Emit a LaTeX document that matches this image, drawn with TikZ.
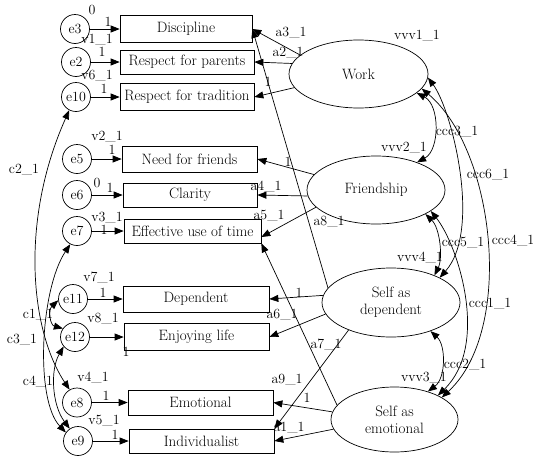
\documentclass[tikz,border=0pt]{standalone}
\usetikzlibrary{arrows.meta,shapes.geometric}
\begin{document}
\begin{tikzpicture}[x=1pt,y=-1pt,line width=0.7pt,
  obs/.style={draw, rectangle, inner sep=0pt, font=\fontsize{15}{17}\selectfont},
  err/.style={draw, circle, minimum size=29pt, inner sep=0pt, font=\fontsize{14}{16}\selectfont},
  lat/.style={draw, ellipse, inner sep=0pt, align=center, font=\fontsize{15}{17}\selectfont},
  lab/.style={inner sep=0pt, font=\fontsize{14}{16}\selectfont},
  arr/.style={-{Triangle[length=9pt,width=7pt]}},
  cov/.style={{Triangle[length=9pt,width=7pt]}-{Triangle[length=9pt,width=7pt]}}]
\useasboundingbox (0,0) rectangle (533,461);

% observed variables
\node[obs, minimum width=132pt, minimum height=27pt] (Disc) at (186,29) {Discipline};
\node[obs, minimum width=134pt, minimum height=24pt] (RP) at (187,62) {Respect for parents};
\node[obs, minimum width=134pt, minimum height=27pt] (RT) at (187,97) {Respect for tradition};
\node[obs, minimum width=135pt, minimum height=26pt] (NF) at (189.5,159) {Need for friends};
\node[obs, minimum width=134pt, minimum height=24pt] (Clar) at (190,195) {Clarity};
\node[obs, minimum width=137pt, minimum height=24pt] (EU) at (192.5,231) {Effective use of time};
\node[obs, minimum width=146pt, minimum height=26pt] (Dep) at (196,299) {Dependent};
\node[obs, minimum width=145pt, minimum height=27pt] (EL) at (196.5,337) {Enjoying life};
\node[obs, minimum width=145pt, minimum height=25pt] (Emo) at (200.5,402.5) {Emotional};
\node[obs, minimum width=145pt, minimum height=24pt] (Ind) at (201.5,441) {Individualist};

% error terms
\node[err] (e3) at (75,29) {e3};
\node[err] (e2) at (76,62) {e2};
\node[err] (e10) at (76,97) {e10};
\node[err] (e5) at (77,159) {e5};
\node[err] (e6) at (77,195) {e6};
\node[err] (e7) at (77,231) {e7};
\node[err] (e11) at (73,299) {e11};
\node[err] (e12) at (75,337) {e12};
\node[err] (e8) at (77,402.5) {e8};
\node[err] (e9) at (78,441) {e9};

% latent variables
\node[lat, minimum width=139pt, minimum height=68pt] (Work) at (358.5,74) {Work};
\node[lat, minimum width=138pt, minimum height=68pt] (Fr) at (376,190) {Friendship};
\node[lat, minimum width=138pt, minimum height=69pt] (SD) at (391,302.5) {Self as\\dependent};
\node[lat, minimum width=127pt, minimum height=65pt] (SE) at (394.5,419.5) {Self as\\emotional};

% error -> indicator
\draw[arr] (e3) -- (Disc);
\draw[arr] (e2) -- (RP);
\draw[arr] (e10) -- (RT);
\draw[arr] (e5) -- (NF);
\draw[arr] (e6) -- (Clar);
\draw[arr] (e7) -- (EU);
\draw[arr] (e11) -- (Dep);
\draw[arr] (e12) -- (EL);
\draw[arr] (e8) -- (Emo);
\draw[arr] (e9) -- (Ind);

% latent -> indicator
\draw[arr] (Work.162) -- (Disc.east);
\draw[arr] (SD.167) -- (Disc.east);
\draw[arr] (Work.171) -- (RP.east);
\draw[arr] (Work.192) -- (RT.east);
\draw[arr] (Fr.166) -- (NF.east);
\draw[arr] (Fr.185) -- (Clar.east);
\draw[arr] (Fr.196) -- (EU.-5);
\draw[arr] (SE.166) -- (EU.south east);
\draw[arr] (SD.174) -- (Dep.east);
\draw[arr] (SD.190) -- (EL.east);
\draw[arr] (SD.213) -- (Ind.north east);
\draw[arr] (SE.173) -- (Emo.east);
\draw[arr] (SE.189) -- (Ind.east);

% covariances between latents
\draw[cov] (Work.-18) .. controls (440,105) and (440,150) .. (Fr.34);
\draw[cov] (Work.-3) .. controls (452,110) and (482,230) .. (SD.27);
\draw[cov] (Work.-13) .. controls (495,150) and (515,330) .. (SE.25);
\draw[cov] (Fr.-26) .. controls (440,228) and (443,258) .. (SD.32);
\draw[cov] (Fr.-21) .. controls (458,245) and (490,345) .. (SE.29);
\draw[cov] (SD.-36) .. controls (446,345) and (446,378) .. (SE.40);

% covariances between errors
\draw[cov] (e10.243) .. controls (20,220) and (30,330) .. (e8.120);
\draw[cov] (e7.243) .. controls (40,290) and (35,400) .. (e9.145);
\draw[cov] (e11.185) .. controls (48,310) and (50,325) .. (e12.145);
\draw[cov] (e12.220) .. controls (50,370) and (52,405) .. (e9.124);

% labels: error side
\node[lab] (l0a) at (92,10) {0};
\node[lab] (l1a) at (108,22) {1};
\node[lab] (lv1) at (97,40) {v1\_1};
\node[lab] (l1b) at (102,52) {1};
\node[lab] (lv6) at (97,76) {v6\_1};
\node[lab] (l1c) at (104,89) {1};
\node[lab] (lv2) at (107,137) {v2\_1};
\node[lab] (l1d) at (112,150) {1};
\node[lab] (l0b) at (97,183) {0};
\node[lab] (l1e) at (110,188) {1};
\node[lab] (lv3) at (107,218) {v3\_1};
\node[lab] (l1f) at (104,230) {1};
\node[lab] (lv7) at (99,278) {v7\_1};
\node[lab] (l1g) at (103,293) {1};
\node[lab] (lv8) at (103,319) {v8\_1};
\node[lab] (l1h) at (126,352) {1};
\node[lab] (lv4) at (93,378) {v4\_1};
\node[lab] (l1i) at (106,396) {1};
\node[lab] (lv5) at (104,421) {v5\_1};
\node[lab] (l1j) at (115,435) {1};
\node[lab] (lc2) at (24,170) {c2\_1};
\node[lab] (lc1) at (38,315) {c1\_1};
\node[lab] (lc3) at (22,340) {c3\_1};
\node[lab] (lc4) at (38,382) {c4\_1};

% labels: loadings
\node[lab] (la3) at (291,33) {a3\_1};
\node[lab] (la2) at (288,53) {a2\_1};
\node[lab] (l1k) at (268,82) {1};
\node[lab] (l1l) at (288,162) {1};
\node[lab] (la4) at (266,187) {a4\_1};
\node[lab] (la5) at (269,216) {a5\_1};
\node[lab] (la8) at (329,222) {a8\_1};
\node[lab] (l1m) at (299,293) {1};
\node[lab] (la6) at (282,315) {a6\_1};
\node[lab] (la7) at (326,345) {a7\_1};
\node[lab] (la9) at (287,380) {a9\_1};
\node[lab] (l1n) at (307,398) {1};
\node[lab] (la1) at (289,428) {a1\_1};

% labels: latent variances and covariances
\node[lab] (lvv1) at (417,36) {vvv1\_1};
\node[lab] (lvv2) at (404,148) {vvv2\_1};
\node[lab] (lvv4) at (420,258) {vvv4\_1};
\node[lab] (lvv3) at (424,378) {vvv3\_1};
\node[lab] (lcc3) at (457,132) {ccc3\_1};
\node[lab] (lcc6) at (488,175) {ccc6\_1};
\node[lab] (lcc5) at (463,243) {ccc5\_1};
\node[lab] (lcc4) at (513,241) {ccc4\_1};
\node[lab] (lcc1) at (490,304) {ccc1\_1};
\node[lab] (lcc2) at (465,365) {ccc2\_1};
\end{tikzpicture}
\end{document}
